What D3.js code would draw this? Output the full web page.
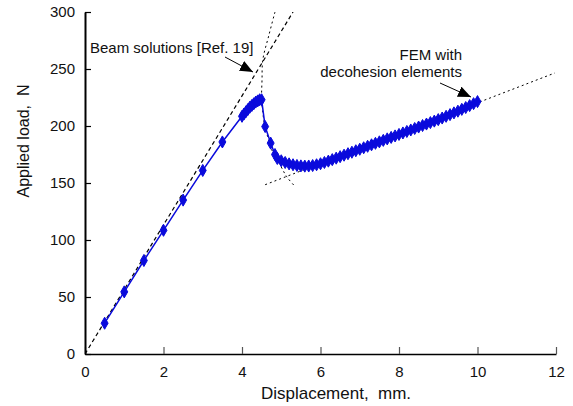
<!DOCTYPE html>
<html>
<head>
<meta charset="utf-8">
<script src="https://cdn.jsdelivr.net/npm/d3@7"></script>
<style>
  body { margin: 0; background: #fff; }
  svg { font-family: Arial, "Liberation Sans", sans-serif; }
</style>
</head>
<body>
<svg width="573" height="406"></svg>
<script>
// FEM with decohesion elements
var femX = [0.5, 1.0, 1.5, 2.0, 2.5, 3.0, 3.5, 4.0, 4.05, 4.1, 4.15, 4.2, 4.25, 4.3, 4.35, 4.4, 4.45, 4.5,
            4.59, 4.73, 4.84,
            4.9, 5.0, 5.1, 5.2, 5.3, 5.4, 5.5, 5.6, 5.7, 5.8, 5.9, 6.0, 6.1, 6.2, 6.3, 6.4, 6.5, 6.6, 6.7, 6.8, 6.9,
            7.0, 7.1, 7.2, 7.3, 7.4, 7.5, 7.6, 7.7, 7.8, 7.9, 8.0, 8.1, 8.2, 8.3, 8.4, 8.5, 8.6, 8.7, 8.8, 8.9,
            9.0, 9.1, 9.2, 9.3, 9.4, 9.5, 9.6, 9.7, 9.8, 9.9, 10.0]
var femY = [27, 54.5, 82, 108.5, 135, 161, 186, 208.5, 210.5, 212.5, 214.5, 216.5, 218, 219.5, 221, 222, 223, 223,
            199.5, 185, 175,
            171.5, 169.5, 168, 166.8, 166, 165.4, 165, 164.8, 164.9, 165.3, 166, 166.9, 168, 169.2, 170.5, 171.8, 173.1, 174.4, 175.7, 177, 178.3,
            179.6, 180.9, 182.2, 183.5, 184.8, 186.1, 187.4, 188.7, 190, 191.3, 192.6, 193.9, 195.2, 196.5, 197.8, 199.1, 200.4, 201.7, 203, 204.3,
            205.6, 207, 208.5, 210, 211.5, 213, 214.6, 216.2, 217.9, 219.6, 221.4]

// Beam solutions [Ref. 19]
var beamX = [0, 5.3]
var beamY = [0, 300]
var propX = [4.84, 4.68, 4.53, 4.51, 4.50, 4.53, 4.58, 4.66, 4.76, 4.97, 5.14, 5.35]
var propY = [300, 279, 258, 240, 225, 212, 200, 190, 179, 166, 155.5, 147]
var longX = [4.59, 11.97]
var longY = [148.5, 246.5]

var xTicks = [0, 2, 4, 6, 8, 10, 12]
var yTicks = [0, 50, 100, 150, 200, 250, 300]

var svg = d3.select('svg')
var x = d3.scaleLinear().domain([0, 12]).range([85, 556])
var y = d3.scaleLinear().domain([0, 300]).range([354, 12])

var defs = svg.append('defs')
defs.append('marker').attr('id', 'head')
  .attr('viewBox', '0 0 10 10').attr('refX', 10).attr('refY', 5)
  .attr('markerWidth', 13).attr('markerHeight', 11).attr('markerUnits', 'userSpaceOnUse')
  .attr('orient', 'auto').attr('preserveAspectRatio', 'none')
  .append('path').attr('d', 'M0,0 L10,5 L0,10 z').attr('fill', 'black')
defs.append('clipPath').attr('id', 'plot')
  .append('rect').attr('x', 85).attr('y', 12).attr('width', 471).attr('height', 342)

var line = d3.line().x(d => x(d[0])).y(d => y(d[1]))
var g = svg.append('g').attr('clip-path', 'url(#plot)')

g.append('path').datum(d3.zip(beamX, beamY)).attr('d', line)
  .attr('fill', 'none').attr('stroke', 'black').attr('stroke-width', 1.2).attr('stroke-dasharray', '4,3')
g.append('path').datum(d3.zip(propX, propY)).attr('d', d3.line().curve(d3.curveCatmullRom).x(d => x(d[0])).y(d => y(d[1])))
  .attr('fill', 'none').attr('stroke', 'black').attr('stroke-width', 1).attr('stroke-dasharray', '2,3')
g.append('path').datum(d3.zip(longX, longY)).attr('d', line)
  .attr('fill', 'none').attr('stroke', 'black').attr('stroke-width', 1).attr('stroke-dasharray', '2,3')

var fem = d3.zip(femX, femY)
g.append('path').datum(fem).attr('d', line)
  .attr('fill', 'none').attr('stroke', '#0a0adc').attr('stroke-width', 1.5)
g.selectAll('path.pt').data(fem).enter().append('path').attr('class', 'pt')
  .attr('d', d3.symbol().type(d3.symbolDiamond).size(42))
  .attr('transform', d => 'translate(' + x(d[0]) + ',' + y(d[1]) + ')')
  .attr('fill', '#0a0adc').attr('stroke', '#0a0adc').attr('stroke-width', 1)

// axes
var xAxis = svg.append('g').attr('transform', 'translate(0,354)')
  .call(d3.axisBottom(x).tickValues(xTicks).tickSizeInner(-7).tickSizeOuter(0).tickPadding(12))
xAxis.select('.domain').attr('stroke', 'black').attr('stroke-width', 1.5)
xAxis.selectAll('.tick line').attr('stroke', '#555').attr('stroke-width', 1.2)
xAxis.selectAll('text').attr('font-size', 15).attr('fill', '#111')

var yAxis = svg.append('g').attr('transform', 'translate(85,0)')
  .call(d3.axisLeft(y).tickValues(yTicks).tickSizeInner(-6).tickSizeOuter(0).tickPadding(10))
yAxis.select('.domain').attr('stroke', 'black').attr('stroke-width', 2)
yAxis.selectAll('.tick line').attr('stroke', 'black').attr('stroke-width', 1.2)
yAxis.selectAll('text').attr('font-size', 15).attr('fill', '#111')

svg.append('text').attr('x', 336).attr('y', 399).attr('text-anchor', 'middle')
  .attr('font-size', 17).attr('fill', '#111').attr('xml:space', 'preserve').text('Displacement,  mm.')
svg.append('text').attr('transform', 'translate(29,141) rotate(-90)').attr('text-anchor', 'middle')
  .attr('font-size', 16).attr('fill', '#111').attr('xml:space', 'preserve').text('Applied load,  N')

// annotations
svg.append('text').attr('x', 90).attr('y', 53).attr('font-size', 15).attr('fill', '#111')
  .text('Beam solutions [Ref. 19]')
svg.append('line').attr('x1', 225).attr('y1', 57).attr('x2', 253).attr('y2', 72)
  .attr('stroke', 'black').attr('stroke-width', 1).attr('marker-end', 'url(#head)')

svg.append('text').attr('x', 462).attr('y', 60).attr('text-anchor', 'end').attr('font-size', 15).attr('fill', '#111')
  .text('FEM with')
svg.append('text').attr('x', 462).attr('y', 77).attr('text-anchor', 'end').attr('font-size', 15).attr('fill', '#111')
  .text('decohesion elements')
svg.append('line').attr('x1', 440).attr('y1', 83).attr('x2', 471).attr('y2', 97)
  .attr('stroke', 'black').attr('stroke-width', 1).attr('marker-end', 'url(#head)')
</script>
</body>
</html>
